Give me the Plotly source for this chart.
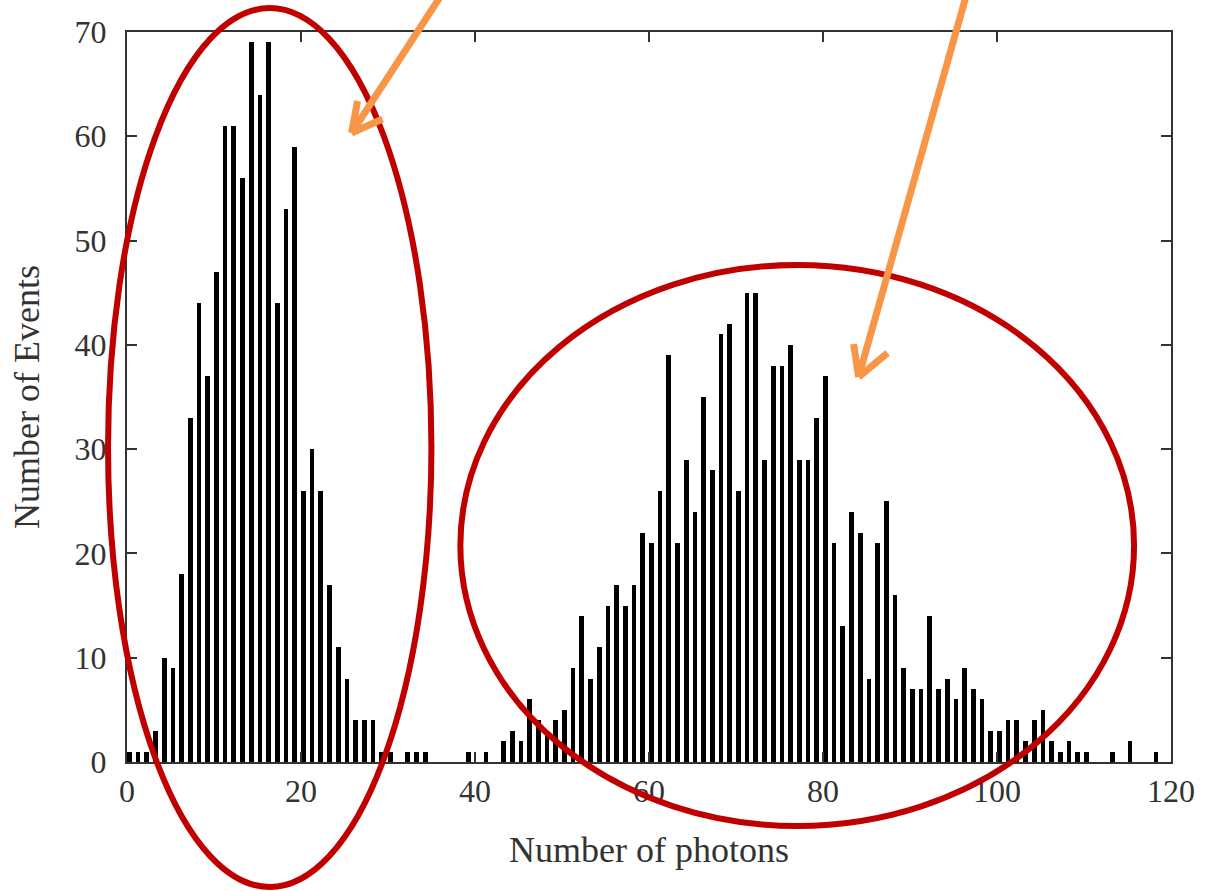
import plotly.graph_objects as go

# ---- data ----
photons = list(range(0, 121))
events = [
    1, 1, 1, 3, 10, 9, 18, 33, 44, 37,        # 0-9
    47, 61, 61, 56, 69, 64, 69, 44, 53, 59,   # 10-19
    26, 30, 26, 17, 11, 8, 4, 4, 4, 1,        # 20-29
    1, 0, 1, 1, 1, 0, 0, 0, 0, 1,             # 30-39
    0, 1, 0, 2, 3, 2, 6, 4, 3, 4,             # 40-49
    5, 9, 14, 8, 11, 15, 17, 15, 17, 22,      # 50-59
    21, 26, 39, 21, 29, 24, 35, 28, 41, 42,   # 60-69
    26, 45, 45, 29, 38, 38, 40, 29, 29, 33,   # 70-79
    37, 21, 13, 24, 22, 8, 21, 25, 16, 9,     # 80-89
    7, 7, 14, 7, 8, 6, 9, 7, 6, 3,            # 90-99
    3, 4, 4, 2, 4, 5, 2, 1, 2, 1,             # 100-109
    1, 0, 0, 1, 0, 2, 0, 0, 1, 0,             # 110-119
    1,                                        # 120
]
x_ticks = [0, 20, 40, 60, 80, 100, 120]
y_ticks = [0, 10, 20, 30, 40, 50, 60, 70]

# ---- geometry helpers (page pixels -> paper coords) ----
W, H = 1207, 891
L, R, T, B = 127, 34, 32, 129
PW, PH = W - L - R, H - T - B


def px(x):
    return (x - L) / PW


def py(y):
    return (H - B - y) / PH


FONT = "Liberation Serif"
AX = "#333333"
RED = "#C00000"
ORANGE = "#F79646"

fig = go.Figure(
    go.Bar(
        x=photons,
        y=events,
        width=0.55,
        offset=0,
        marker=dict(color="black", line=dict(width=0)),
        hoverinfo="x+y",
    )
)

axis_common = dict(
    showgrid=False,
    zeroline=False,
    showline=True,
    linecolor=AX,
    linewidth=2,
    mirror="ticks",
    ticks="inside",
    ticklen=10,
    tickwidth=2,
    tickcolor=AX,
    tickfont=dict(family=FONT, size=32, color=AX),
)

fig.update_layout(
    width=W,
    height=H,
    margin=dict(l=L, r=R, t=T, b=B),
    paper_bgcolor="white",
    plot_bgcolor="white",
    showlegend=False,
    bargap=0,
    xaxis=dict(
        range=[0, 120],
        tickvals=x_ticks,
        ticktext=[str(v) for v in x_ticks],
        ticklabelstandoff=0,
        title=dict(text="Number of photons", font=dict(family=FONT, size=36, color=AX), standoff=28),
        **axis_common,
    ),
    yaxis=dict(
        range=[0, 70],
        tickvals=y_ticks,
        ticktext=[str(v) for v in y_ticks],
        ticklabelstandoff=12,
        title=dict(text="Number of Events", font=dict(family=FONT, size=36, color=AX), standoff=24),
        **axis_common,
    ),
)

# ---- red ellipses (annotation overlay) ----
ellipses = [(108, 8, 432, 887), (461, 265, 1136, 826)]
for x0, y0, x1, y1 in ellipses:
    fig.add_shape(
        type="circle", xref="paper", yref="paper",
        x0=px(x0), x1=px(x1), y0=py(y1), y1=py(y0),
        line=dict(color=RED, width=6), layer="above",
    )

# ---- orange arrows (annotation overlay) ----
arrows = [
    ((442, -5), (352, 133), [(358, 101), (383, 119)]),
    ((968, -5), (860, 377), [(855, 344), (889, 353)]),
]
for (tx, ty), (hx, hy), wings in arrows:
    fig.add_shape(type="line", xref="paper", yref="paper",
                  x0=px(tx), y0=py(ty), x1=px(hx), y1=py(hy),
                  line=dict(color=ORANGE, width=7), layer="above")
    for wx, wy in wings:
        fig.add_shape(type="line", xref="paper", yref="paper",
                      x0=px(hx), y0=py(hy), x1=px(wx), y1=py(wy),
                      line=dict(color=ORANGE, width=7), layer="above")

fig.write_html("out.html")
